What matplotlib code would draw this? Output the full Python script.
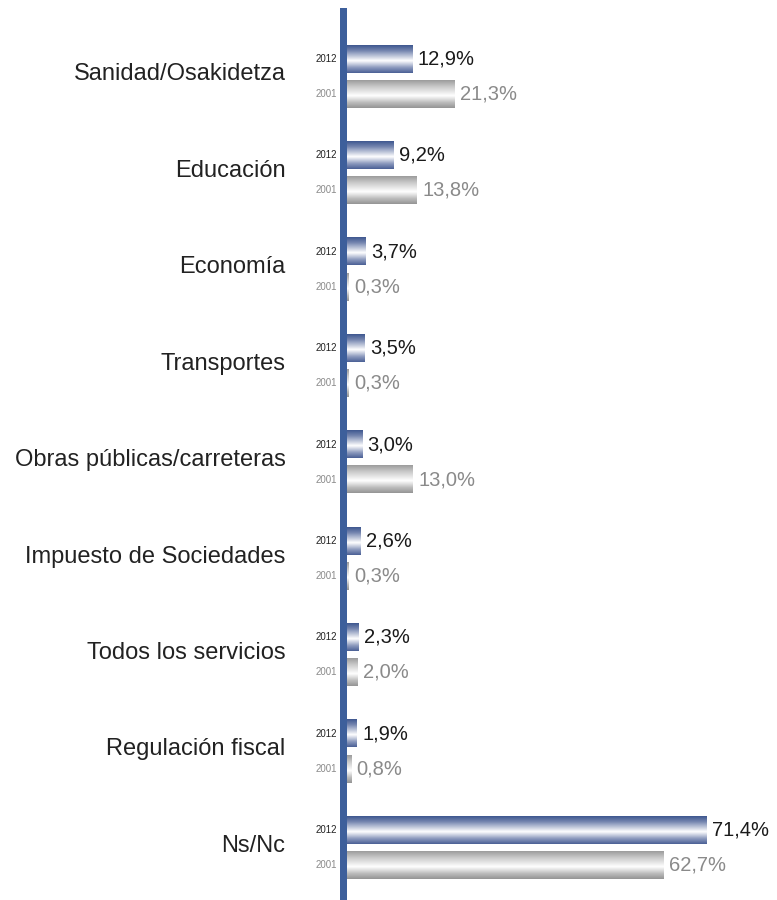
import numpy as np
import matplotlib
matplotlib.use("Agg")
import matplotlib.pyplot as plt
from matplotlib.patches import Rectangle
from matplotlib.colors import LinearSegmentedColormap

categories = ["Sanidad/Osakidetza", "Educación", "Economía", "Transportes",
              "Obras públicas/carreteras", "Impuesto de Sociedades",
              "Todos los servicios", "Regulación fiscal", "Ns/Nc"]
years = ["2012", "2001"]
values_2012 = [12.9, 9.2, 3.7, 3.5, 3.0, 2.6, 2.3, 1.9, 71.4]
values_2001 = [21.3, 13.8, 0.3, 0.3, 13.0, 0.3, 2.0, 0.8, 62.7]

plt.rcParams['font.family'] = ['Liberation Sans', 'DejaVu Sans']

W, H = 777, 900
fig = plt.figure(figsize=(W / 100, H / 100), dpi=100)
ax_left = 346.5
px_per_unit = 5.04
ax = fig.add_axes([ax_left / W, 0, 1 - ax_left / W, 1])
group_px = 96.4
first_center = 76.5
xlim = (0, (W - ax_left) / px_per_unit)
ylim = (8 + (H - (first_center + 8 * group_px)) / group_px, -first_center / group_px)
ax.axis('off')

blue_cmap = LinearSegmentedColormap.from_list(
    "b", [(0, "#3f5890"), (0.2, "#7687b0"), (0.56, "#ffffff"), (0.8, "#909dc0"), (1, "#4c6196")])
gray_cmap = LinearSegmentedColormap.from_list(
    "g", [(0, "#9c9c9c"), (0.2, "#c4c4c4"), (0.56, "#ffffff"), (0.8, "#bebebe"), (1, "#959595")])
grad = np.linspace(0, 1, 64).reshape(-1, 1)

bar_h = 0.285
offset = 0.182
series = [(values_2012, -offset, blue_cmap, "#1a1a1a", "#222222"),
          (values_2001, offset, gray_cmap, "#8a8a8a", "#8a8a8a")]

for i, cat in enumerate(categories):
    ax.annotate(cat, xy=(0, i), xytext=(-61, 2), textcoords='offset pixels',
                ha='right', va='center', fontsize=17, color='#222222')
    for (vals, off, cmap, vcol, ycol), yr in zip(series, years):
        v = vals[i]
        y = i + off
        ax.imshow(grad, cmap=cmap, aspect='auto', interpolation='bilinear',
                  extent=(0, v, y + bar_h / 2, y - bar_h / 2), origin='upper', zorder=2)
        ax.annotate(yr, xy=(0, y), xytext=(-9, 0), textcoords='offset pixels',
                    ha='right', va='center', fontsize=7, color=ycol)
        ax.annotate(f"{v:.1f}%".replace('.', ','), xy=(v, y), xytext=(6, 0),
                    textcoords='offset pixels', ha='left', va='center',
                    fontsize=14.5, color=vcol)

ax.set_xlim(*xlim)
ax.set_ylim(*ylim)

fig.add_artist(Rectangle((340 / W, 0), 6.5 / W, (H - 8) / H, transform=fig.transFigure,
                         facecolor='#3d5f9b', edgecolor='none', zorder=5))

fig.savefig("out.png", dpi=100)
